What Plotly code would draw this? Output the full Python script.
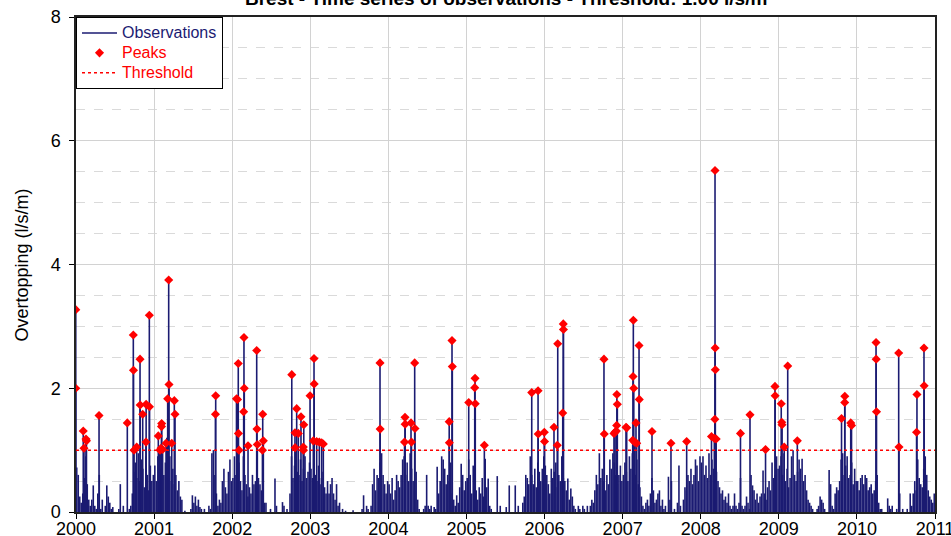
import plotly.graph_objects as go

# Weekly maxima of the overtopping discharge (l/s/m), 52 weeks per year
obs_2000 = [0.72, 0.60, 0.25, 0.15, 0.30, 0.55, 0.90, 0.45, 0.20, 0.10, 0.20, 0.43, 0.10,
            0.05, 0.30, 0.60, 0.05, 0.20, 0.00, 0.10, 0.43, 0.25, 0.15, 0.05, 0.08, 0.00,
            0.00, 0.00, 0.05, 0.45, 0.00, 0.10, 0.00, 0.00, 0.00, 0.05, 0.10, 0.30, 0.65,
            0.80, 0.55, 0.95, 0.50, 0.85, 0.70, 0.40, 0.90, 0.60, 0.35, 0.75, 0.50, 0.60]
obs_2001 = [0.75, 0.50, 0.90, 1.00, 0.70, 0.95, 0.60, 0.80, 1.20, 0.55, 0.90, 0.50, 0.70,
            0.45, 0.60, 0.35, 0.50, 0.25, 0.20, 0.00, 0.02, 0.00, 0.00, 0.00, 0.05, 0.27,
            0.15, 0.25, 0.10, 0.20, 0.08, 0.05, 0.00, 0.05, 0.00, 0.00, 0.10, 0.05, 0.95,
            1.00, 0.60, 0.30, 0.10, 0.20, 0.15, 0.50, 0.70, 0.40, 0.30, 0.65, 0.85, 0.50]
obs_2002 = [0.55, 0.90, 0.60, 0.45, 0.80, 0.50, 0.35, 0.90, 0.60, 0.45, 0.25, 0.40, 0.30,
            0.60, 0.45, 0.50, 0.35, 0.55, 0.45, 0.35, 0.30, 0.15, 0.15, 0.00, 0.00, 0.05,
            0.00, 0.00, 0.54, 0.10, 0.00, 0.00, 0.00, 0.16, 0.10, 0.00, 0.05, 0.00, 0.30,
            0.90, 0.55, 0.75, 0.95, 0.65, 0.60, 0.85, 0.50, 0.70, 0.90, 0.55, 0.65, 0.80]
obs_2003 = [0.70, 0.55, 0.80, 0.60, 0.50, 0.75, 0.45, 0.55, 0.65, 0.40, 0.30, 0.50, 0.30,
            0.45, 0.55, 0.30, 0.20, 0.45, 0.10, 0.15, 0.00, 0.05, 0.00, 0.02, 0.00, 0.00,
            0.00, 0.00, 0.03, 0.00, 0.00, 0.00, 0.00, 0.00, 0.05, 0.27, 0.00, 0.10, 0.05,
            0.00, 0.10, 0.45, 0.70, 0.35, 0.60, 0.55, 0.80, 0.95, 0.60, 0.45, 0.30, 0.50]
obs_2004 = [0.45, 0.30, 0.55, 0.20, 0.35, 0.60, 0.50, 0.40, 0.60, 0.85, 0.90, 0.60, 0.80,
            0.50, 0.95, 0.70, 0.50, 0.35, 0.65, 0.20, 0.05, 0.00, 0.00, 0.05, 0.10, 0.60,
            0.10, 0.05, 0.10, 0.00, 0.08, 0.05, 0.73, 0.30, 0.50, 0.90, 0.85, 0.70, 0.45,
            0.60, 0.50, 0.80, 0.30, 0.20, 0.10, 0.27, 0.15, 0.40, 0.78, 0.60, 0.35, 0.50]
obs_2005 = [0.55, 0.85, 0.60, 0.30, 0.75, 0.50, 0.35, 0.20, 0.40, 0.30, 0.55, 0.25, 0.86,
            0.40, 0.54, 0.10, 0.05, 0.00, 0.00, 0.00, 0.58, 0.00, 0.10, 0.00, 0.00, 0.00,
            0.08, 0.00, 0.43, 0.00, 0.00, 0.00, 0.43, 0.00, 0.10, 0.00, 0.00, 0.15, 0.25,
            0.60, 0.55, 0.45, 0.90, 0.60, 0.45, 0.70, 0.40, 0.80, 0.65, 0.50, 0.70, 0.90]
obs_2006 = [0.75, 0.60, 0.45, 0.30, 0.70, 0.55, 0.65, 0.80, 0.40, 0.60, 0.50, 0.90, 0.55,
            0.50, 0.35, 0.54, 0.20, 0.38, 0.25, 0.10, 0.05, 0.00, 0.10, 0.05, 0.00, 0.10,
            0.05, 0.00, 0.10, 0.00, 0.10, 0.20, 0.15, 0.35, 0.60, 0.45, 0.95, 0.55, 0.70,
            0.50, 0.35, 0.60, 0.45, 0.85, 0.70, 0.95, 0.80, 0.60, 0.45, 0.60, 0.75, 0.50]
obs_2007 = [0.60, 0.80, 0.65, 0.50, 0.90, 0.70, 0.95, 0.55, 0.60, 0.85, 0.45, 0.40, 0.25,
            0.10, 0.05, 0.15, 0.20, 0.10, 0.30, 0.55, 0.35, 0.15, 0.20, 0.30, 0.35, 0.10,
            0.20, 0.05, 0.10, 0.00, 0.57, 0.20, 0.50, 0.00, 0.05, 0.00, 0.15, 0.75, 0.10,
            0.00, 0.20, 0.40, 0.35, 0.60, 0.50, 0.70, 0.45, 0.60, 0.85, 0.75, 0.50, 0.90]
obs_2008 = [0.80, 0.90, 0.60, 0.75, 0.55, 0.95, 0.60, 0.85, 0.70, 0.90, 0.65, 0.50, 0.40,
            0.30, 0.35, 0.20, 0.25, 0.15, 0.30, 0.10, 0.05, 0.10, 0.30, 0.10, 0.05, 0.15,
            0.55, 0.10, 0.05, 0.10, 0.25, 0.15, 0.05, 0.60, 0.43, 0.35, 0.20, 0.30, 0.15,
            0.25, 0.30, 0.67, 0.30, 0.20, 0.40, 0.50, 0.35, 0.80, 0.55, 0.60, 0.90, 0.70]
obs_2009 = [0.75, 0.90, 0.60, 0.95, 0.50, 0.70, 0.40, 0.55, 0.90, 1.00, 0.60, 0.50, 0.65,
            0.85, 0.70, 0.86, 0.50, 0.60, 0.35, 0.20, 0.15, 0.10, 0.05, 0.00, 0.00, 0.05,
            0.10, 0.25, 0.20, 0.15, 0.05, 0.00, 0.00, 0.68, 0.45, 0.10, 0.05, 0.30, 0.40,
            0.35, 0.50, 0.85, 0.95, 0.60, 0.75, 0.90, 0.55, 0.60, 0.80, 0.45, 0.70, 0.50]
obs_2010 = [0.50, 0.35, 0.55, 0.60, 0.45, 0.60, 0.55, 0.35, 0.40, 0.45, 0.30, 0.35, 0.50,
            0.60, 0.15, 0.05, 0.05, 0.00, 0.00, 0.00, 0.22, 0.10, 0.05, 0.10, 0.00, 0.00,
            0.05, 0.00, 0.30, 0.00, 0.05, 0.00, 0.00, 0.05, 0.00, 0.30, 0.10, 0.30, 0.50,
            0.35, 0.85, 0.55, 0.45, 0.40, 0.70, 0.90, 0.60, 0.35, 0.25, 0.20, 0.15, 0.30]

# Peaks over threshold: time (decimal year) and overtopping (l/s/m)
peak_time = [1999.997, 1999.997,
             2000.093, 2000.102, 2000.128, 2000.134, 2000.295, 2000.657,
             2000.734, 2000.736, 2000.743, 2000.777, 2000.820, 2000.822, 2000.854, 2000.896, 2000.898, 2000.939, 2000.941,
             2001.054, 2001.076, 2001.088, 2001.095, 2001.097, 2001.108, 2001.153, 2001.174, 2001.187, 2001.191, 2001.226, 2001.259, 2001.268,
             2001.786, 2001.789,
             2002.055, 2002.068, 2002.078, 2002.080, 2002.087, 2002.147, 2002.151, 2002.155, 2002.203,
             2002.314, 2002.318, 2002.322, 2002.388, 2002.391, 2002.399,
             2002.763, 2002.804, 2002.806, 2002.826, 2002.847, 2002.881, 2002.911, 2002.913, 2002.917, 2002.997,
             2003.039, 2003.048, 2003.050, 2003.082, 2003.116, 2003.146, 2003.167,
             2003.893, 2003.895,
             2004.207, 2004.213, 2004.215, 2004.290, 2004.296, 2004.337, 2004.341,
             2004.779, 2004.781, 2004.815, 2004.819,
             2005.029, 2005.106, 2005.110, 2005.113, 2005.229,
             2005.836, 2005.917, 2005.919, 2005.997, 2006.000,
             2006.121, 2006.163, 2006.169, 2006.233, 2006.240, 2006.242,
             2006.761, 2006.765, 2006.889, 2006.902, 2006.919, 2006.924, 2006.926, 2006.932,
             2007.043, 2007.052, 2007.129, 2007.133, 2007.137, 2007.142, 2007.154, 2007.171, 2007.180, 2007.210, 2007.213,
             2007.376, 2007.619, 2007.820,
             2008.138, 2008.174, 2008.181, 2008.183, 2008.185, 2008.187, 2008.198,
             2008.509, 2008.631, 2008.830, 2008.951, 2008.953,
             2009.031, 2009.037, 2009.041, 2009.069, 2009.114, 2009.237,
             2009.803, 2009.844, 2009.845, 2009.921, 2009.931,
             2010.245, 2010.247, 2010.251, 2010.535, 2010.539, 2010.764, 2010.769, 2010.859, 2010.861]
peak_value = [3.27, 2.00,
              1.31, 1.03, 1.18, 1.15, 1.56, 1.44,
              2.86, 2.29, 1.00, 1.05, 2.47, 1.73, 1.58, 1.13, 1.74, 3.18, 1.70,
              1.23, 1.00, 1.03, 1.38, 1.43, 1.01, 1.11, 1.83, 3.75, 2.06, 1.11, 1.80, 1.58,
              1.58, 1.88,
              1.83, 1.82, 2.40, 1.27, 1.00, 1.62, 2.82, 2.00, 1.07,
              2.61, 1.34, 1.09, 1.00, 1.58, 1.15,
              2.22, 1.28, 1.04, 1.67, 1.27, 1.54, 1.05, 1.00, 1.41, 1.88,
              1.15, 2.48, 2.07, 1.14, 1.13, 1.12, 1.10,
              2.41, 1.34,
              1.13, 1.53, 1.42, 1.44, 1.13, 2.41, 1.35,
              1.46, 1.12, 2.77, 2.35,
              1.77, 2.01, 2.16, 1.75, 1.08,
              1.93, 1.96, 1.26, 1.29, 1.14,
              1.37, 1.08, 2.72, 1.60, 3.04, 2.95,
              2.47, 1.26, 1.27, 1.29, 1.31, 1.40, 1.90, 1.74,
              1.37, 1.36, 1.16, 2.19, 3.10, 2.00, 1.13, 1.44, 1.11, 2.69, 1.82,
              1.30, 1.11, 1.14,
              1.22, 1.19, 1.50, 5.52, 2.65, 2.30, 1.18,
              1.27, 1.57, 1.01, 2.03, 1.88,
              1.75, 1.45, 1.41, 1.05, 2.36, 1.15,
              1.51, 1.77, 1.87, 1.44, 1.40,
              2.74, 2.47, 1.62, 2.57, 1.05, 1.29, 1.90, 2.65, 2.04]

threshold = 1.0
year_ticks = list(range(2000, 2012))
y_ticks = [0, 2, 4, 6, 8]

NAVY = "#1b1b72"
RED = "#ff0000"

obs_by_year = {2000: obs_2000, 2001: obs_2001, 2002: obs_2002, 2003: obs_2003,
               2004: obs_2004, 2005: obs_2005, 2006: obs_2006, 2007: obs_2007,
               2008: obs_2008, 2009: obs_2009, 2010: obs_2010}

# Observation series as (time, value) pairs, peaks included
series = []
for year, vals in obs_by_year.items():
    n = len(vals)
    for w, v in enumerate(vals):
        series.append((year + (w + 0.5) / n, v))
series += list(zip(peak_time, peak_value))
series.sort()

# Each observation drawn as a vertical stroke from zero
stem_x, stem_y = [], []
for t, v in series:
    stem_x += [t, t, None]
    stem_y += [0, v, None]


def legend_label(text, color):
    # 16px coloured entry text inside a compact legend row
    return f"<span style='font-size:16px;color:{color}'>{text}</span>"


fig = go.Figure()
fig.add_trace(go.Scatter(
    x=stem_x, y=stem_y, mode="lines",
    line=dict(color=NAVY, width=1.6),
    name=legend_label("Observations", NAVY),
    legendrank=1, hoverinfo="skip",
))
fig.add_trace(go.Scatter(
    x=[year_ticks[0], year_ticks[-1]], y=[threshold, threshold], mode="lines",
    line=dict(color=RED, width=1.5, dash="dot"),
    name=legend_label("Threshold", RED),
    legendrank=3,
))
fig.add_trace(go.Scatter(
    x=peak_time, y=peak_value, mode="markers",
    marker=dict(symbol="diamond", size=7, color=RED, line=dict(width=0)),
    name=legend_label("Peaks", RED),
    legendrank=2,
))

fig.update_layout(
    width=951, height=536,
    margin=dict(l=76, r=16, t=17, b=24, autoexpand=False),
    paper_bgcolor="white", plot_bgcolor="white",
    font=dict(family="Liberation Sans, Arial, sans-serif", size=18, color="black"),
    showlegend=True,
    legend=dict(x=0, y=1, xanchor="left", yanchor="top",
                bgcolor="white", bordercolor="black", borderwidth=1,
                font=dict(size=13), tracegroupgap=0, itemwidth=35),
    xaxis=dict(
        range=[year_ticks[0], year_ticks[-1]],
        tickvals=year_ticks, ticktext=[str(y) for y in year_ticks],
        showgrid=True, gridcolor="#d2d2d2", gridwidth=1,
        ticks="outside", ticklen=5, tickcolor="black",
        showline=True, linecolor="#222222", linewidth=1.5, mirror=True,
        zeroline=False, automargin=False, ticklabeloverflow="allow",
        ticklabelstandoff=-5,
    ),
    yaxis=dict(
        range=[0, 8], tickvals=y_ticks,
        showgrid=True, gridcolor="#d2d2d2", gridwidth=1,
        minor=dict(dtick=0.5, showgrid=True, gridcolor="#dadada",
                   griddash="dash", gridwidth=1),
        ticks="outside", ticklen=5, tickcolor="black",
        showline=True, linecolor="#222222", linewidth=1.5, mirror=True,
        zeroline=False, automargin=False, ticklabelstandoff=5,
    ),
    annotations=[
        dict(text="<b>Brest - Time series of observations - Threshold: 1.00 l/s/m</b>",
             xref="paper", yref="paper", x=0.5, y=1.038,
             xanchor="center", yanchor="middle", showarrow=False,
             font=dict(size=19, color="black")),
        dict(text="Overtopping (l/s/m)", textangle=-90,
             xref="paper", yref="paper", x=-0.0629, y=0.5,
             xanchor="center", yanchor="middle", showarrow=False,
             font=dict(size=18, color="black")),
    ],
)

fig.write_html("out.html")
